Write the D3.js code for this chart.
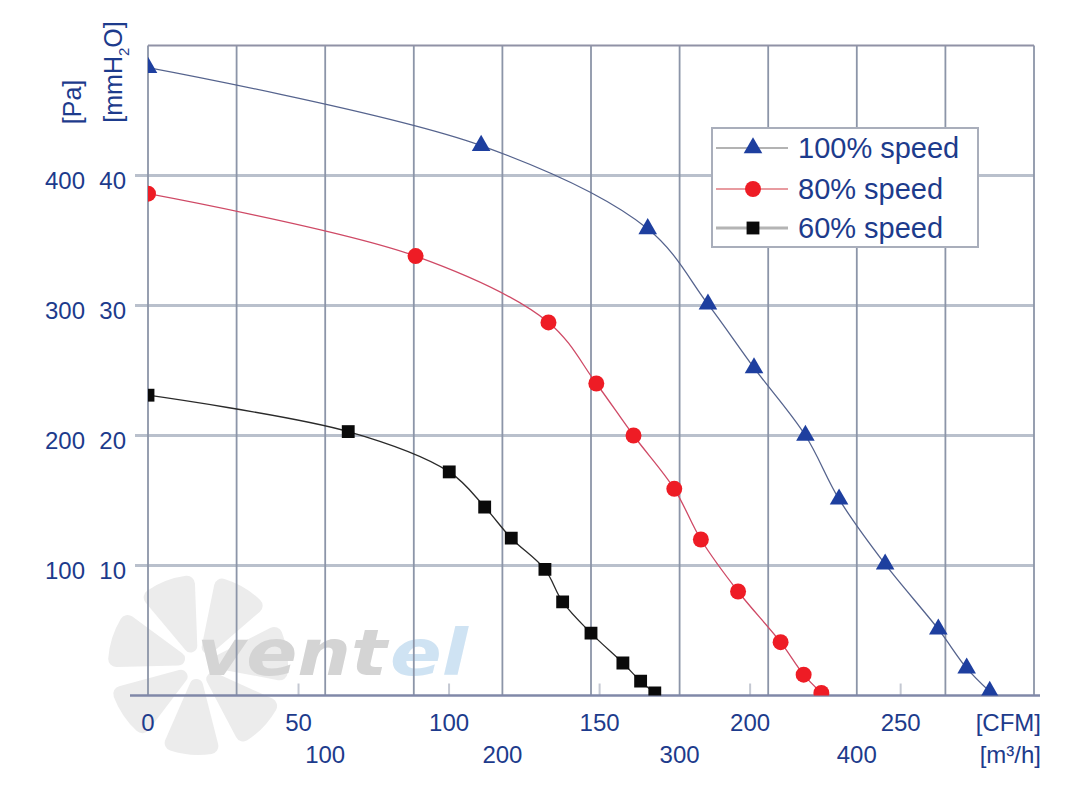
<!DOCTYPE html>
<html>
<head>
<meta charset="utf-8">
<script src="https://cdn.jsdelivr.net/npm/d3@7"></script>
<style>
  body { margin: 0; background: #fff; }
  text { font-family: "Liberation Sans", Arial, sans-serif; }
</style>
</head>
<body>
<svg id="chart"></svg>
<script>
// airflow in m3/h, pressure in Pa
var flow100 = [0, 188, 282, 316, 342, 371, 390, 416, 446, 462, 475];
var pres100 = [483, 423, 359, 301, 252, 200, 151, 101, 51, 21, 3];
var flow80 = [0, 151, 226, 253, 274, 297, 312, 333, 357, 370, 380];
var pres80 = [386, 338, 287, 240, 200, 159, 120, 80, 41, 16, 2];
var flow60 = [0, 113, 170, 190, 205, 224, 234, 250, 268, 278, 286];
var pres60 = [231, 203, 172, 145, 121, 97, 72, 48, 25, 11, 2];

var seriesNames = ["100% speed", "80% speed", "60% speed"];
var paTicks = [100, 200, 300, 400];
var mmTicks = [10, 20, 30, 40];
var cfmTicks = [0, 50, 100, 150, 200, 250];
var m3hTicks = [100, 200, 300, 400];

var width = 1066, height = 801;
var svg = d3.select("#chart").attr("width", width).attr("height", height);

var x = d3.scaleLinear().domain([0, 500]).range([148, 1034]);
var xCfm = d3.scaleLinear().domain([0, 500 / 1.699]).range([148, 1034]);
var y = d3.scaleLinear().domain([0, 500]).range([695.5, 45.5]);
var yMm = d3.scaleLinear().domain([0, 50]).range([695.5, 45.5]);

var labelColor = "#1d3b8c";

svg.append("defs").append("clipPath").attr("id", "plotclip")
  .append("rect")
  .attr("x", x(0)).attr("y", y(500))
  .attr("width", x(500) - x(0)).attr("height", y(0) - y(500));

// watermark
var wm = svg.append("g").attr("transform", "translate(198,665)").attr("opacity", 0.75);
var blade = d3.arc().innerRadius(14).outerRadius(90).cornerRadius(8);
d3.range(7).forEach(function (i) {
  var a0 = i * (2 * Math.PI / 7) + 0.2;
  wm.append("path")
    .attr("d", blade({ startAngle: a0, endAngle: a0 + 0.66 }))
    .attr("fill", "#e6e6e6");
});
svg.append("text")
  .attr("x", 197).attr("y", 675)
  .attr("textLength", 190)
  .attr("lengthAdjust", "spacingAndGlyphs")
  .style("font-family", "DejaVu Sans")
  .style("font-size", "64px").style("font-weight", "bold").style("font-style", "italic")
  .attr("fill", "#d4d4d4")
  .text("vent");
svg.append("text")
  .attr("x", 390).attr("y", 675)
  .attr("textLength", 78)
  .attr("lengthAdjust", "spacingAndGlyphs")
  .style("font-family", "DejaVu Sans")
  .style("font-size", "64px").style("font-weight", "bold").style("font-style", "italic")
  .attr("fill", "#cfe3f3")
  .text("el");

// grid
var grid = svg.append("g");
grid.selectAll(".hgrid")
  .data(paTicks)
  .enter()
  .append("line")
  .attr("x1", 135).attr("x2", x(500))
  .attr("y1", function (d) { return y(d); })
  .attr("y2", function (d) { return y(d); })
  .attr("stroke", "#b9c0cc")
  .attr("stroke-width", 3);

grid.selectAll(".vgrid")
  .data(d3.range(0, 501, 50))
  .enter()
  .append("line")
  .attr("x1", function (d) { return x(d); })
  .attr("x2", function (d) { return x(d); })
  .attr("y1", y(500)).attr("y2", y(0))
  .attr("stroke", "#8c95a8")
  .attr("stroke-width", 1.8);

grid.append("line")
  .attr("x1", x(0)).attr("x2", x(500))
  .attr("y1", y(500)).attr("y2", y(500))
  .attr("stroke", "#9092a6").attr("stroke-width", 2.2);

grid.selectAll(".cfmtick")
  .data(cfmTicks.slice(1))
  .enter()
  .append("line")
  .attr("x1", function (d) { return xCfm(d); })
  .attr("x2", function (d) { return xCfm(d); })
  .attr("y1", y(0) - 12).attr("y2", y(0))
  .attr("stroke", "#c4c8d2")
  .attr("stroke-width", 2);

grid.append("line")
  .attr("x1", 130).attr("x2", 1040)
  .attr("y1", y(0)).attr("y2", y(0))
  .attr("stroke", "#8088a8").attr("stroke-width", 2.5);

// curves
var series = [
  { name: seriesNames[0], flow: flow100, pres: pres100, line: "#56648e", fill: "#1e3f9f", sym: d3.symbolTriangle, size: 150 },
  { name: seriesNames[1], flow: flow80, pres: pres80, line: "#cf4a66", fill: "#ee1c25", sym: d3.symbolCircle, size: 200 },
  { name: seriesNames[2], flow: flow60, pres: pres60, line: "#2a2a2a", fill: "#0a0a0a", sym: d3.symbolSquare, size: 165 }
];

var line = d3.line()
  .x(function (d) { return x(d[0]); })
  .y(function (d) { return y(d[1]); })
  .curve(d3.curveCatmullRom.alpha(0.5));

var plot = svg.append("g").attr("clip-path", "url(#plotclip)");

series.forEach(function (s) {
  var pts = s.flow.map(function (f, i) { return [f, s.pres[i]]; });
  plot.append("path")
    .datum(pts)
    .attr("d", line)
    .attr("fill", "none")
    .attr("stroke", s.line)
    .attr("stroke-width", 1.3);
  plot.selectAll(null)
    .data(pts)
    .enter()
    .append("path")
    .attr("d", d3.symbol().type(s.sym).size(s.size))
    .attr("transform", function (d) { return "translate(" + x(d[0]) + "," + y(d[1]) + ")"; })
    .attr("fill", s.fill);
});

// y labels
svg.selectAll(".palab")
  .data(paTicks)
  .enter()
  .append("text")
  .attr("x", 85)
  .attr("y", function (d) { return y(d) + 13.5; })
  .attr("text-anchor", "end")
  .attr("fill", labelColor)
  .style("font-size", "24px")
  .text(function (d) { return d; });

svg.selectAll(".mmlab")
  .data(mmTicks)
  .enter()
  .append("text")
  .attr("x", 126)
  .attr("y", function (d) { return yMm(d) + 13.5; })
  .attr("text-anchor", "end")
  .attr("fill", labelColor)
  .style("font-size", "24px")
  .text(function (d) { return d; });

svg.append("text")
  .attr("transform", "translate(81,102) rotate(-90)")
  .attr("text-anchor", "middle")
  .attr("fill", labelColor)
  .style("font-size", "25px")
  .text("[Pa]");

var mm = svg.append("text")
  .attr("transform", "translate(122,72) rotate(-90)")
  .attr("text-anchor", "middle")
  .attr("fill", labelColor)
  .style("font-size", "25px");
mm.append("tspan").text("[mmH");
mm.append("tspan").attr("dy", 7).style("font-size", "15px").text("2");
mm.append("tspan").attr("dy", -7).text("O]");

// x labels
svg.selectAll(".cfmlab")
  .data(cfmTicks)
  .enter()
  .append("text")
  .attr("x", function (d) { return xCfm(d); })
  .attr("y", 731)
  .attr("text-anchor", "middle")
  .attr("fill", labelColor)
  .style("font-size", "24px")
  .text(function (d) { return d; });

svg.selectAll(".m3hlab")
  .data(m3hTicks)
  .enter()
  .append("text")
  .attr("x", function (d) { return x(d); })
  .attr("y", 763)
  .attr("text-anchor", "middle")
  .attr("fill", labelColor)
  .style("font-size", "24px")
  .text(function (d) { return d; });

svg.append("text")
  .attr("x", 1041).attr("y", 731)
  .attr("text-anchor", "end")
  .attr("fill", labelColor)
  .style("font-size", "24px")
  .text("[CFM]");

svg.append("text")
  .attr("x", 1041).attr("y", 763)
  .attr("text-anchor", "end")
  .attr("fill", labelColor)
  .style("font-size", "24px")
  .text("[m³/h]");

// legend
var legend = svg.append("g");
legend.append("rect")
  .attr("x", 712).attr("y", 128)
  .attr("width", 266).attr("height", 119)
  .attr("fill", "#fff")
  .attr("stroke", "#a9aebb")
  .attr("stroke-width", 2);

var legendLine = ["#9a9a9a", "#e07a80", "#b4b4b4"];
var legendWidth = [1.5, 1.5, 3];
var rowY = [148, 189, 228];

series.forEach(function (s, i) {
  legend.append("line")
    .attr("x1", 716).attr("x2", 788)
    .attr("y1", rowY[i]).attr("y2", rowY[i])
    .attr("stroke", legendLine[i])
    .attr("stroke-width", legendWidth[i]);
  legend.append("path")
    .attr("d", d3.symbol().type(s.sym).size(s.size))
    .attr("transform", "translate(753," + rowY[i] + ")")
    .attr("fill", s.fill);
  legend.append("text")
    .attr("x", 798)
    .attr("y", rowY[i] + 10)
    .attr("fill", labelColor)
    .style("font-size", "29px")
    .text(s.name);
});
</script>
</body>
</html>
